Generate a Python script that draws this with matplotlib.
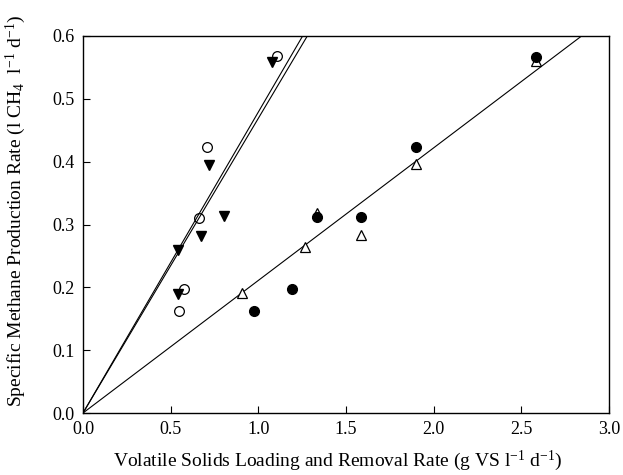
import numpy as np
import matplotlib
matplotlib.use('Agg')
from matplotlib import pyplot as plt

plt.rcParams['font.family'] = ['Liberation Serif', 'DejaVu Serif']
plt.rcParams['mathtext.fontset'] = 'custom'
plt.rcParams['mathtext.rm'] = 'Liberation Serif'
plt.rcParams['mathtext.it'] = 'Liberation Serif:italic'

# open circles
oc_x = [0.55, 0.576, 0.663, 0.705, 1.108]
oc_y = [0.162, 0.198, 0.311, 0.424, 0.568]
# filled down triangles
dt_x = [0.544, 0.544, 0.675, 0.72, 0.806, 1.078]
dt_y = [0.19, 0.26, 0.281, 0.394, 0.3135, 0.559]
# filled circles
fc_x = [0.975, 1.19, 1.336, 1.584, 1.899, 2.584]
fc_y = [0.162, 0.198, 0.3115, 0.3115, 0.424, 0.567]
# open up triangles
ut_x = [0.905, 1.266, 1.336, 1.584, 1.899, 2.584]
ut_y = [0.1915, 0.264, 0.318, 0.284, 0.396, 0.560]

# fitted slopes (through origin)
slopes = [0.479, 0.469, 0.211]

fig = plt.figure(figsize=(6.23, 4.75), dpi=100)
ax = fig.add_axes([83/623, 62/475, 526/623, 377/475])

xx = np.array([0, 3.0])
for s in slopes:
    ax.plot(xx, s*xx, color='black', lw=0.8, zorder=1)

ax.plot(ut_x, ut_y, '^', mfc='white', mec='black', ms=7, mew=0.9, zorder=2)
ax.plot(fc_x, fc_y, 'o', mfc='black', mec='black', ms=7, zorder=3)
ax.plot(dt_x, dt_y, 'v', mfc='black', mec='black', ms=7, zorder=3)
ax.plot(oc_x, oc_y, 'o', mfc='none', mec='black', ms=7, mew=0.9, zorder=4)

ax.set_xlim(0, 3.0)
ax.set_ylim(0, 0.6)
ax.set_xticks(np.arange(0, 3.01, 0.5))
ax.set_yticks(np.arange(0, 0.61, 0.1))
ax.xaxis.set_major_formatter(matplotlib.ticker.FormatStrFormatter('%.1f'))
ax.yaxis.set_major_formatter(matplotlib.ticker.FormatStrFormatter('%.1f'))
ax.tick_params(direction='in', length=5, width=0.8, labelsize=13, pad=6)
for sp in ax.spines.values():
    sp.set_linewidth(1.0)

ax.set_xlabel('Volatile Solids Loading and Removal Rate (g VS l$^{-1}$ d$^{-1}$)', fontsize=14)
ax.set_ylabel('Specific Methane Production Rate (l CH$_4$  l$^{-1}$ d$^{-1}$)', fontsize=14)
ax.xaxis.set_label_coords(0.484, -0.095)
ax.yaxis.set_label_coords(-0.105, 0.536)

fig.savefig('out.png', dpi=100)
